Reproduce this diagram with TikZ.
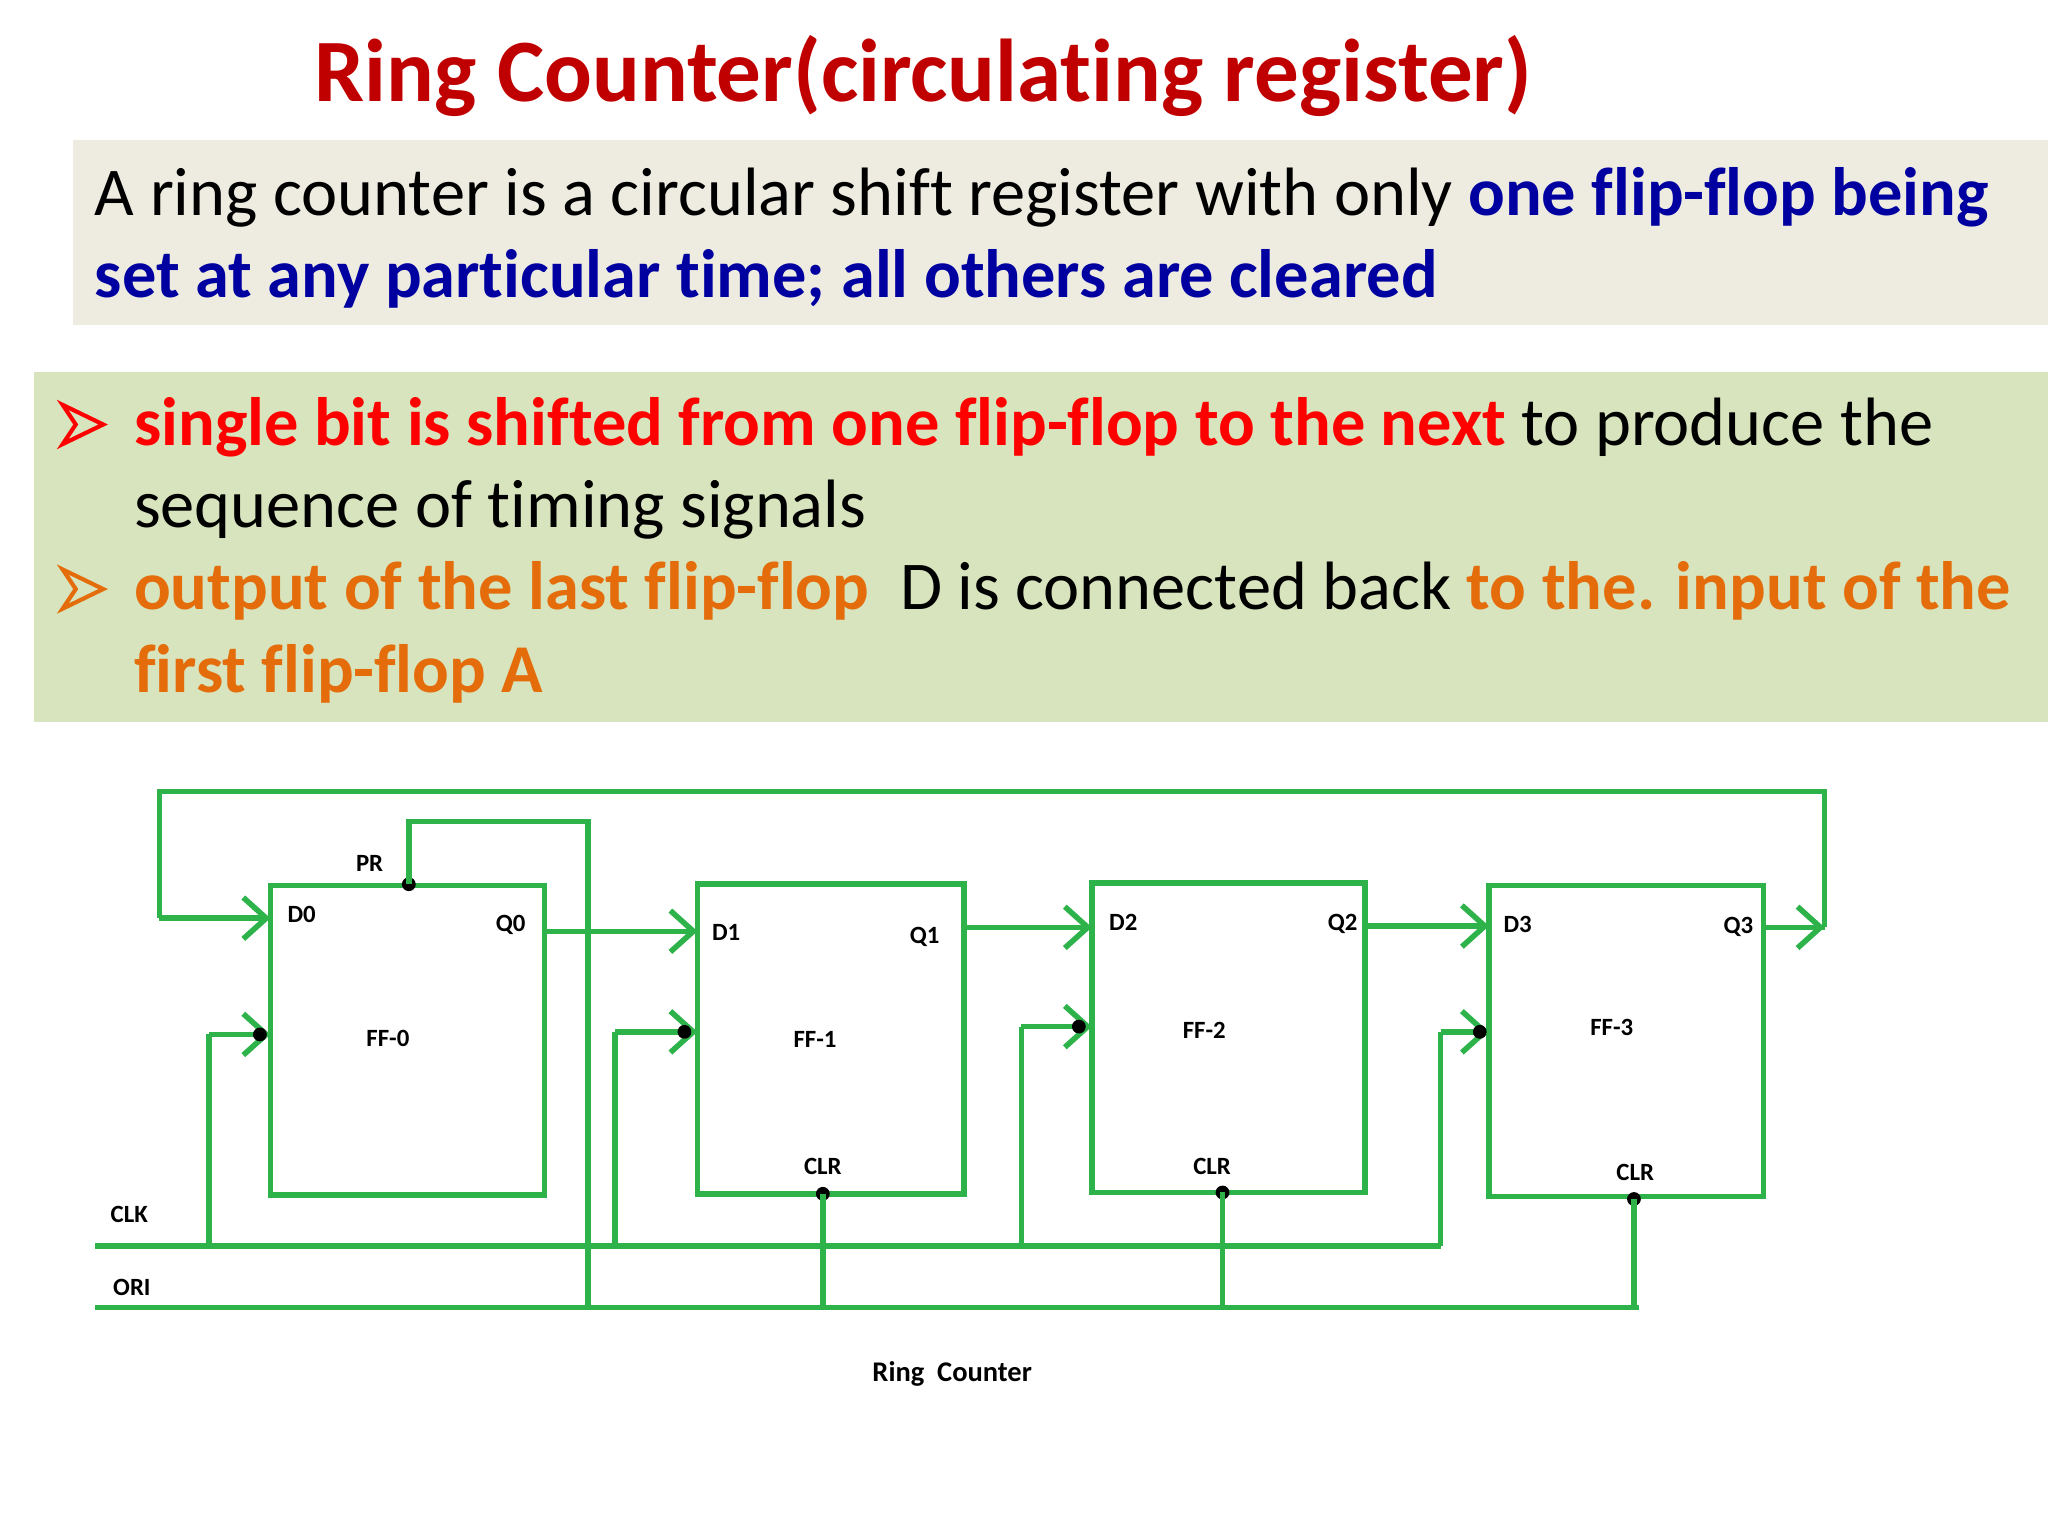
\documentclass[tikz,border=0pt]{standalone}
\usepackage{fontspec}
\setmainfont{Carlito}[Ligatures={NoCommon}]
\usetikzlibrary{arrows.meta}
\definecolor{wire}{HTML}{2DB34A}
\definecolor{ttl}{HTML}{C00000}
\definecolor{blu}{HTML}{0000A0}
\definecolor{orn}{HTML}{E46C0A}
\definecolor{gbox}{HTML}{EEECE1}
\definecolor{lbox}{HTML}{D7E4BD}
\begin{document}
\begin{tikzpicture}[x=0.01cm,y=-0.01cm,
  w/.style={draw=wire,line width=1.2pt},
  ar/.style={w,-{Straight Barb[length=5pt,width=9pt,line width=1.2pt]}},
  ff/.style={w,fill=none},
  lab/.style={font=\fontsize{5.4}{6}\selectfont\bfseries},
  dot/.style={circle,fill=black,inner sep=0pt,minimum size=3pt},
  body/.style={anchor=base west,inner sep=0pt,font=\fontsize{14.9}{17}\selectfont}]
\useasboundingbox (0,0) rectangle (1568,1176);
\node[anchor=base,inner sep=0pt,text=ttl,font=\fontsize{19.4}{22}\selectfont\bfseries] (title) at (707,78) {Ring Counter(circulating register)};
\fill[gbox] (56,107) rectangle (1568,249);
\node[body] (t1) at (72,165) {A ring counter is a circular shift register with only \textcolor{blu}{\bfseries one flip-flop being}};
\node[body,text=blu,font=\fontsize{14.9}{17}\selectfont\bfseries] (t2) at (72,228) {set at any particular time; all others are cleared};
\fill[lbox] (26,285) rectangle (1568,553);
\foreach \y/\c in {325/red,451/orn}{
  \draw[\c,line width=0.9pt,line join=miter] (48,\y-15) -- (79,\y) -- (48,\y+15) -- (58,\y) -- cycle;}
\node[body] (b1) at (102,341) {\textcolor{red}{\bfseries single bit is shifted from one flip-flop to the next} to produce the};
\node[body] (b2) at (102,404) {sequence of timing signals};
\node[body] (b3) at (102,467) {\textcolor{orn}{\bfseries output of the last flip-flop}\ \ D is connected back \textcolor{orn}{\bfseries to the. input of the}};
\node[body,text=orn,font=\fontsize{14.9}{17}\selectfont\bfseries] (b4) at (102,530) {first flip-flop A};
% flip-flops
\draw[ff] (207,678) rectangle (417,915);
\draw[ff] (534,677) rectangle (738,914);
\draw[ff] (836,676) rectangle (1045,913);
\draw[ff] (1140,678) rectangle (1350,916);
% coordinates
\coordinate (q3) at (1350,710); \coordinate (q3e) at (1397,710);
\coordinate (fa) at (1397,606); \coordinate (fb) at (122,606); \coordinate (fc) at (122,703); \coordinate (d0) at (207,703);
\draw[w] (q3) -- (q3e);
\draw[ar] (q3e) ++(-47,0) -- (q3e);
\draw[w] (q3e) -- (fa) -- (fb) -- (fc);
\draw[ar] (fc) -- (d0);
\node[dot] (pr) at (313,677) {};
\coordinate (pa) at (313,629); \coordinate (pb) at (450,629); \coordinate (pc) at (450,1001);
\draw[w] (pr.center) -- (pa) -- (pb) -- (pc);
\coordinate (q0) at (417,713); \coordinate (d1) at (534,713);
\coordinate (q1) at (738,710); \coordinate (d2) at (836,710);
\coordinate (q2) at (1045,709); \coordinate (d3) at (1140,709);
\draw[ar] (q0) -- (d1); \draw[ar] (q1) -- (d2); \draw[ar] (q2) -- (d3);
% clk
\coordinate (clka) at (73,954); \coordinate (clkb) at (1103,954);
\draw[w] (clka) -- (clkb);
\foreach \x/\y/\e/\dx [count=\i] in {160/792/207/199, 471/790/534/524, 782/786/836/826, 1103/790/1140/1133}{
  \coordinate (c\i) at (\x,954); \coordinate (cu\i) at (\x,\y); \coordinate (ce\i) at (\e,\y);
  \draw[w] (c\i) -- (cu\i);
  \draw[ar] (cu\i) -- (ce\i);
  \node[dot] (cd\i) at (\dx,\y) {};}
% ori
\coordinate (oria) at (73,1001); \coordinate (orib) at (1255,1001);
\draw[w] (oria) -- (orib);
\foreach \x/\y [count=\i] in {630/914, 936/913, 1251/918}{
  \node[dot] (clr\i) at (\x,\y) {};
  \coordinate (co\i) at (\x,1001);
  \draw[w] (clr\i.center) -- (co\i);}
% labels
\node[lab] (lclk) at (99,930) {CLK};
\node[lab] (lori) at (101,986) {ORI};
\node[lab] (lpr) at (283,661) {PR};
\node[lab] (ld0) at (231,700) {D0};
\node[lab] (lq0) at (391,708) {Q0};
\node[lab] (lf0) at (297,795) {FF-0};
\node[lab] (ld1) at (556,714) {D1};
\node[lab] (lq1) at (708,717) {Q1};
\node[lab] (lf1) at (624,796) {FF-1};
\node[lab] (lc1) at (630,893) {CLR};
\node[lab] (ld2) at (860,706) {D2};
\node[lab] (lq2) at (1028,707) {Q2};
\node[lab] (lf2) at (922,789) {FF-2};
\node[lab] (lc2) at (928,893) {CLR};
\node[lab] (ld3) at (1162,708) {D3};
\node[lab] (lq3) at (1331,710) {Q3};
\node[lab] (lf3) at (1234,787) {FF-3};
\node[lab] (lc3) at (1252,898) {CLR};
\node[font=\fontsize{6.2}{7}\selectfont\bfseries] (cap) at (729,1052) {Ring\ \ Counter};
\end{tikzpicture}
\end{document}
